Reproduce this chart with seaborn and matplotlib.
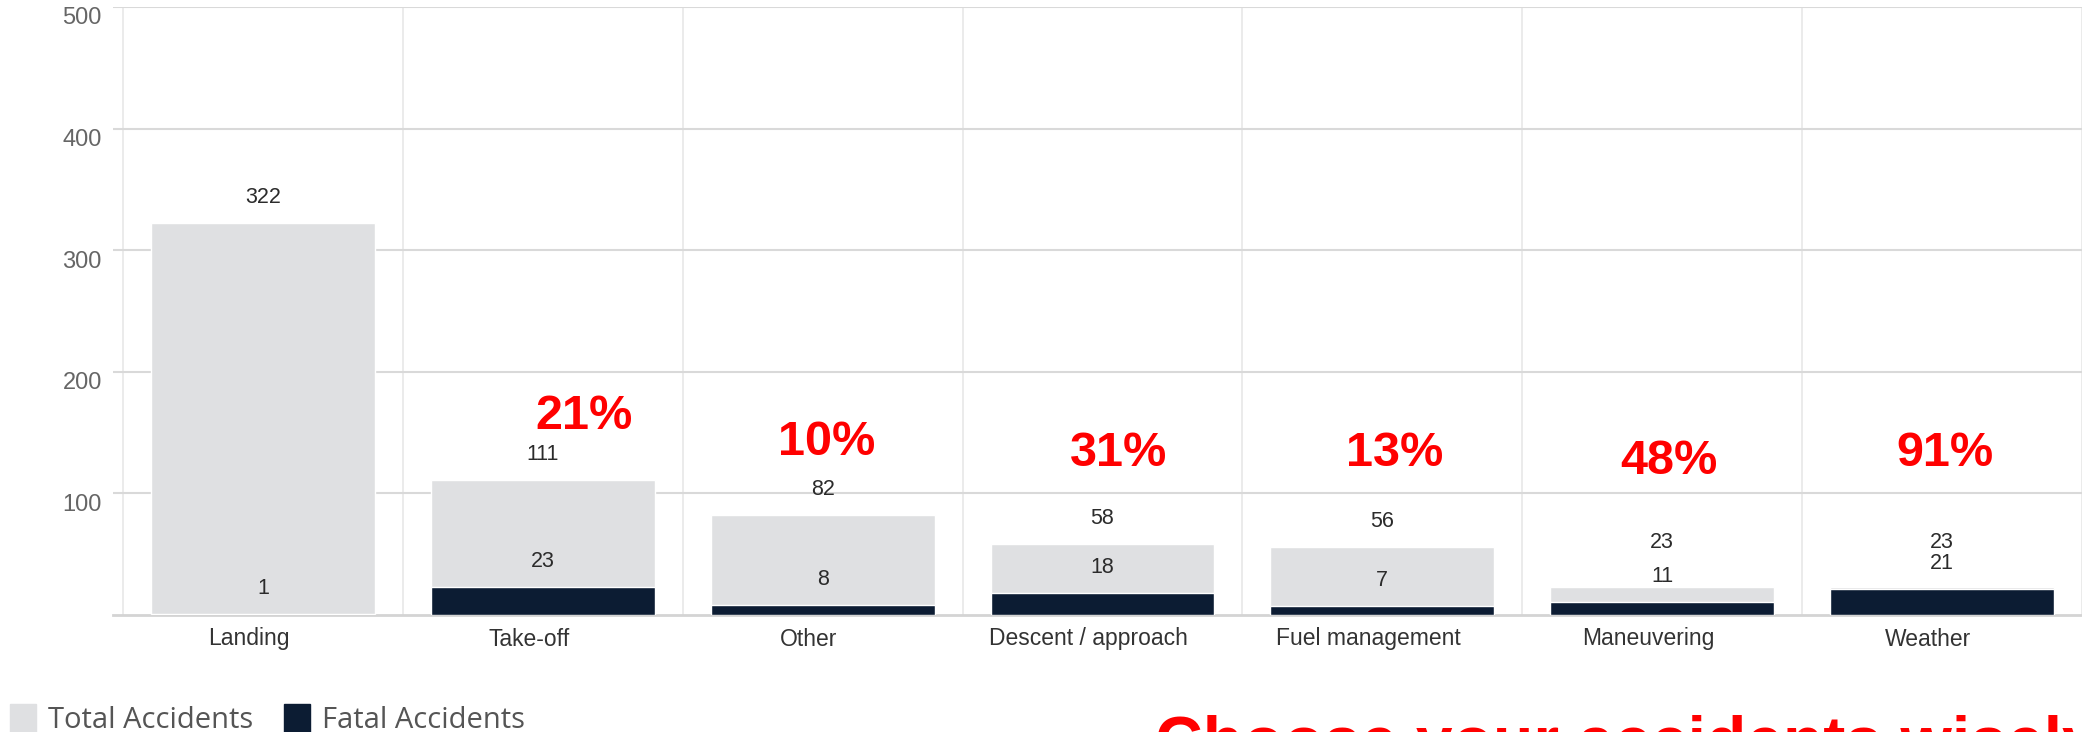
import math
import matplotlib
matplotlib.use("Agg")
import matplotlib.pyplot as plt
import matplotlib.transforms as mtransforms
from matplotlib.patches import Patch
import pandas as pd
import seaborn as sns

categories = ["Landing", "Take-off", "Other", "Descent / approach",
              "Fuel management", "Maneuvering", "Weather"]
total_accidents = [322, 111, 82, 58, 56, 23, 23]
fatal_accidents = [1, 23, 8, 18, 7, 11, 21]
y_ticks = [100, 200, 300, 400, 500]

# hand placed red callouts: sideways nudge (category units) and height (data units)
pct_dx = [0, 0.146, 0.014, 0.057, 0.043, 0.025, 0.01]
pct_y = [None, 163, 142, 133, 133, 126, 133]

LIGHT = "#dfe0e2"
DARK = "#0c1c33"
W, H = 2082, 732

df = pd.DataFrame({"category": categories,
                   "total": total_accidents,
                   "fatal": fatal_accidents})

sns.set_theme(style="white")
plt.rcParams["font.family"] = ["Liberation Sans", "DejaVu Sans"]

fig = plt.figure(figsize=(W / 100, H / 100), dpi=100)
ax = fig.add_axes([113 / W, (H - 615) / H, 1 - 113 / W, (615 - 7) / H])

sns.barplot(data=df, x="category", y="total", color=LIGHT, width=0.8,
            saturation=1, errorbar=None, ax=ax, zorder=2)
sns.barplot(data=df, x="category", y="fatal", color=DARK, width=0.8,
            saturation=1, errorbar=None, ax=ax, zorder=3)

n = len(categories)
ax.set_xlim(-0.5 - 10 / 280, n - 0.5)
ax.set_ylim(0, 500)
ax.set_xlabel("")
ax.set_ylabel("")
ax.set_yticks(y_ticks)
ax.set_xticks([i - 0.5 for i in range(n + 1)], minor=True)
ax.set_axisbelow(True)
ax.yaxis.grid(True, color="#d9d9d9", lw=1.5)
ax.xaxis.grid(True, which="minor", color="#e8e8e8", lw=1.2)
ax.xaxis.grid(False, which="major")
for side in ["top", "right", "left"]:
    ax.spines[side].set_visible(False)
ax.spines["bottom"].set_color("#d4d4d4")
ax.spines["bottom"].set_linewidth(2)

ax.tick_params(axis="y", length=0, pad=8, labelsize=17, labelcolor="#666666")
ax.tick_params(axis="x", which="both", length=0, pad=9, labelsize=16.5,
               labelcolor="#333333")
yshift = mtransforms.ScaledTranslation(0, -9 / 100, fig.dpi_scale_trans)
for lab in ax.get_yticklabels():
    lab.set_transform(lab.get_transform() + yshift)
# category labels sit a little left of the bar centres in the original
xshift = mtransforms.ScaledTranslation(-14 / 100, 0, fig.dpi_scale_trans)
for lab in ax.get_xticklabels():
    lab.set_transform(lab.get_transform() + xshift)

for i, (t, f) in enumerate(zip(total_accidents, fatal_accidents)):
    # short bars: total label pushed up to clear the fatal label
    ax.text(i, max(t + 21, 60), str(t), ha="center", va="center",
            fontsize=15.5, color="#2b2b2b", zorder=5)
    ax.text(i, f + 21, str(f), ha="center", va="center",
            fontsize=15.5, color="#2b2b2b", zorder=5)
    if pct_y[i] is not None:
        pct = math.floor(100 * f / t + 0.5)
        ax.text(i + pct_dx[i], pct_y[i], f"{pct}%", ha="center", va="center",
                fontsize=35, fontweight="bold", color="#ff0000", zorder=6)

handles = [Patch(color=LIGHT, label="Total Accidents"),
           Patch(color=DARK, label="Fatal Accidents")]
fig.legend(handles=handles, loc="lower left", bbox_to_anchor=(10 / W, -0.004),
           ncol=2, frameon=False, handlelength=0.9, handleheight=1.1,
           handletextpad=0.4, columnspacing=1.05, borderpad=0, borderaxespad=0,
           prop={"family": "Open Sans", "size": 21}, labelcolor="#555555")

fig.text(1155 / W, (H - 763) / H, "Choose your accidents wisely",
         color="#ff0000", fontsize=47.5, fontweight="bold",
         ha="left", va="baseline")

fig.savefig("out.png", dpi=100)
